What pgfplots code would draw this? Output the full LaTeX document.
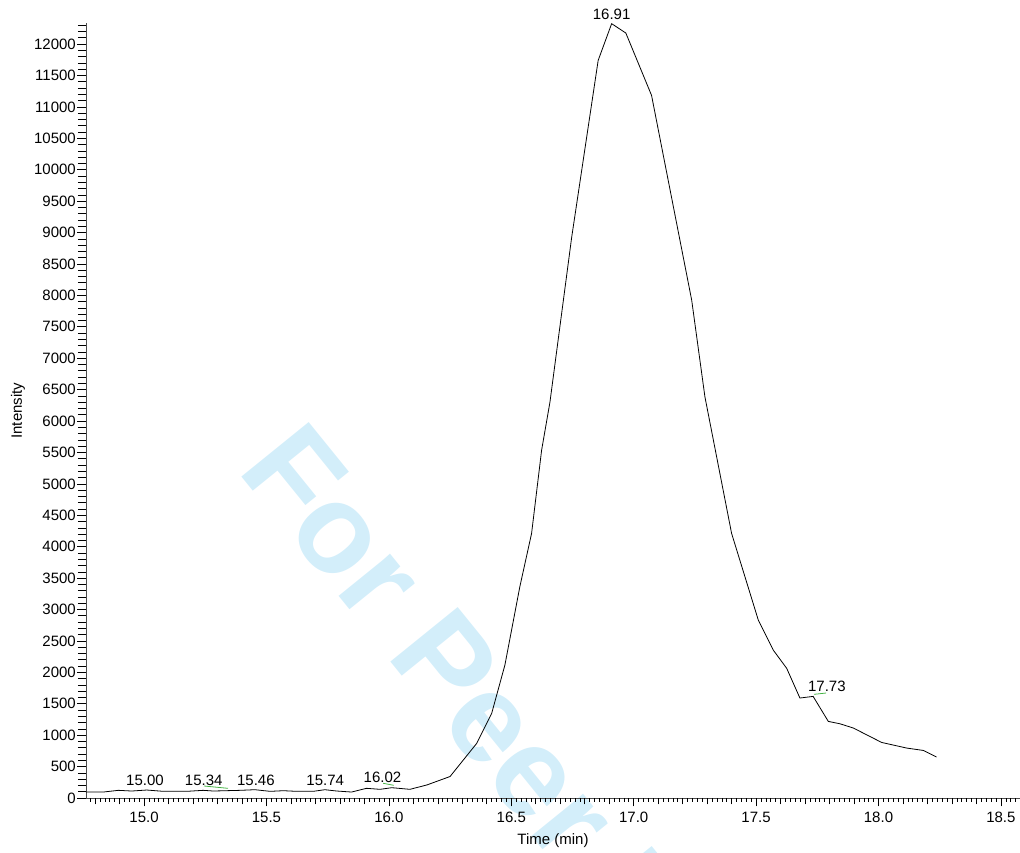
\documentclass[border=0pt]{standalone}
\usepackage{pgfplots}
\pgfplotsset{compat=1.18}
\usepackage{fontspec}
\setmainfont{Liberation Sans}
\definecolor{wm}{RGB}{211,238,250}
\definecolor{pkgreen}{RGB}{70,180,70}

\pgfplotstableread{
t I
14.763 95
14.834 95
14.895 122
14.950 111
15.011 127
15.079 106
15.174 106
15.242 122
15.283 111
15.392 122
15.453 132
15.515 106
15.569 116
15.624 106
15.691 106
15.739 132
15.787 111
15.848 95
15.909 154
15.964 138
16.012 164
16.086 138
16.155 207
16.250 342
16.359 870
16.420 1347
16.474 2116
16.535 3362
16.583 4211
16.624 5536
16.658 6300
16.747 8930
16.855 11740
16.910 12324
16.968 12175
17.073 11183
17.237 7923
17.291 6385
17.400 4211
17.509 2832
17.570 2355
17.625 2064
17.679 1591
17.733 1617
17.795 1219
17.842 1182
17.897 1114
18.013 884
18.115 795
18.183 757
18.237 652
}\chrom

\begin{document}
\begin{tikzpicture}
\node[rotate=-51, anchor=base west, text=wm, inner sep=0pt,
      font=\fontsize{126bp}{130bp}\bfseries\selectfont] at (150bp,328bp) {For Peer Review};
\begin{axis}[
  at={(0,0)}, anchor=south west,
  width=934bp, height=774.7bp, scale only axis,
  xmin=14.763, xmax=18.578, ymin=0, ymax=12330,
  axis x line=bottom, axis y line=left,
  axis line style={-, line width=1pt, black!70},
  tick align=outside,
  tick style={black, line width=0.6pt},
  major tick length=8.5bp, minor tick length=6.5bp,
  scaled x ticks=false, scaled y ticks=false,
  xtick={15,15.5,...,18.5},
  minor xtick={14.8,14.9,...,18.55},
  ytick={0,500,...,12000},
  extra y ticks={100,200,...,12300},
  extra y tick labels={},
  extra y tick style={major tick length=8bp},
  extra x ticks={14.78,14.80,...,18.57},
  extra x tick labels={},
  extra x tick style={major tick length=3.7bp},
  ticklabel style={font=\fontsize{15bp}{18bp}\selectfont},
  /pgf/number format/assume math mode=true,
  xticklabel style={yshift=-2.5bp, /pgf/number format/.cd, fixed, fixed zerofill, precision=1},
  yticklabel style={inner sep=1.5pt, /pgf/number format/.cd, fixed, 1000 sep={}},
  xlabel={Time (min)}, ylabel={Intensity},
  xlabel style={at={(axis description cs:0.5,-0.0549)}, anchor=center, font=\fontsize{15bp}{18bp}\selectfont},
  ylabel style={at={(axis description cs:-0.0728,0.5)}, anchor=center, font=\fontsize{15bp}{18bp}\selectfont},
  clip=false,
]
\addplot[black, line width=0.8pt] table[x=t, y=I] {\chrom};
\addplot[pkgreen, line width=0.8pt] coordinates {(15.245,191) (15.343,154)};
\addplot[pkgreen, line width=0.8pt] coordinates {(15.977,234) (16.020,202)};
\addplot[pkgreen, line width=0.8pt] coordinates {(17.737,1650) (17.786,1671)};
\begin{scope}[every node/.style={font=\fontsize{15bp}{18bp}\selectfont, inner sep=0pt, anchor=center}]
\node at (axis cs:15.004,276) {15.00};
\node at (axis cs:15.244,276) {15.34};
\node at (axis cs:15.457,276) {15.46};
\node at (axis cs:15.740,276) {15.74};
\node at (axis cs:15.974,327) {16.02};
\node at (axis cs:16.910,12475) {16.91};
\node at (axis cs:17.789,1772) {17.73};
\end{scope}
\end{axis}
\pgfresetboundingbox
\path[use as bounding box] (-86bp,-55bp) rectangle (934bp,798bp);
\end{tikzpicture}
\end{document}
